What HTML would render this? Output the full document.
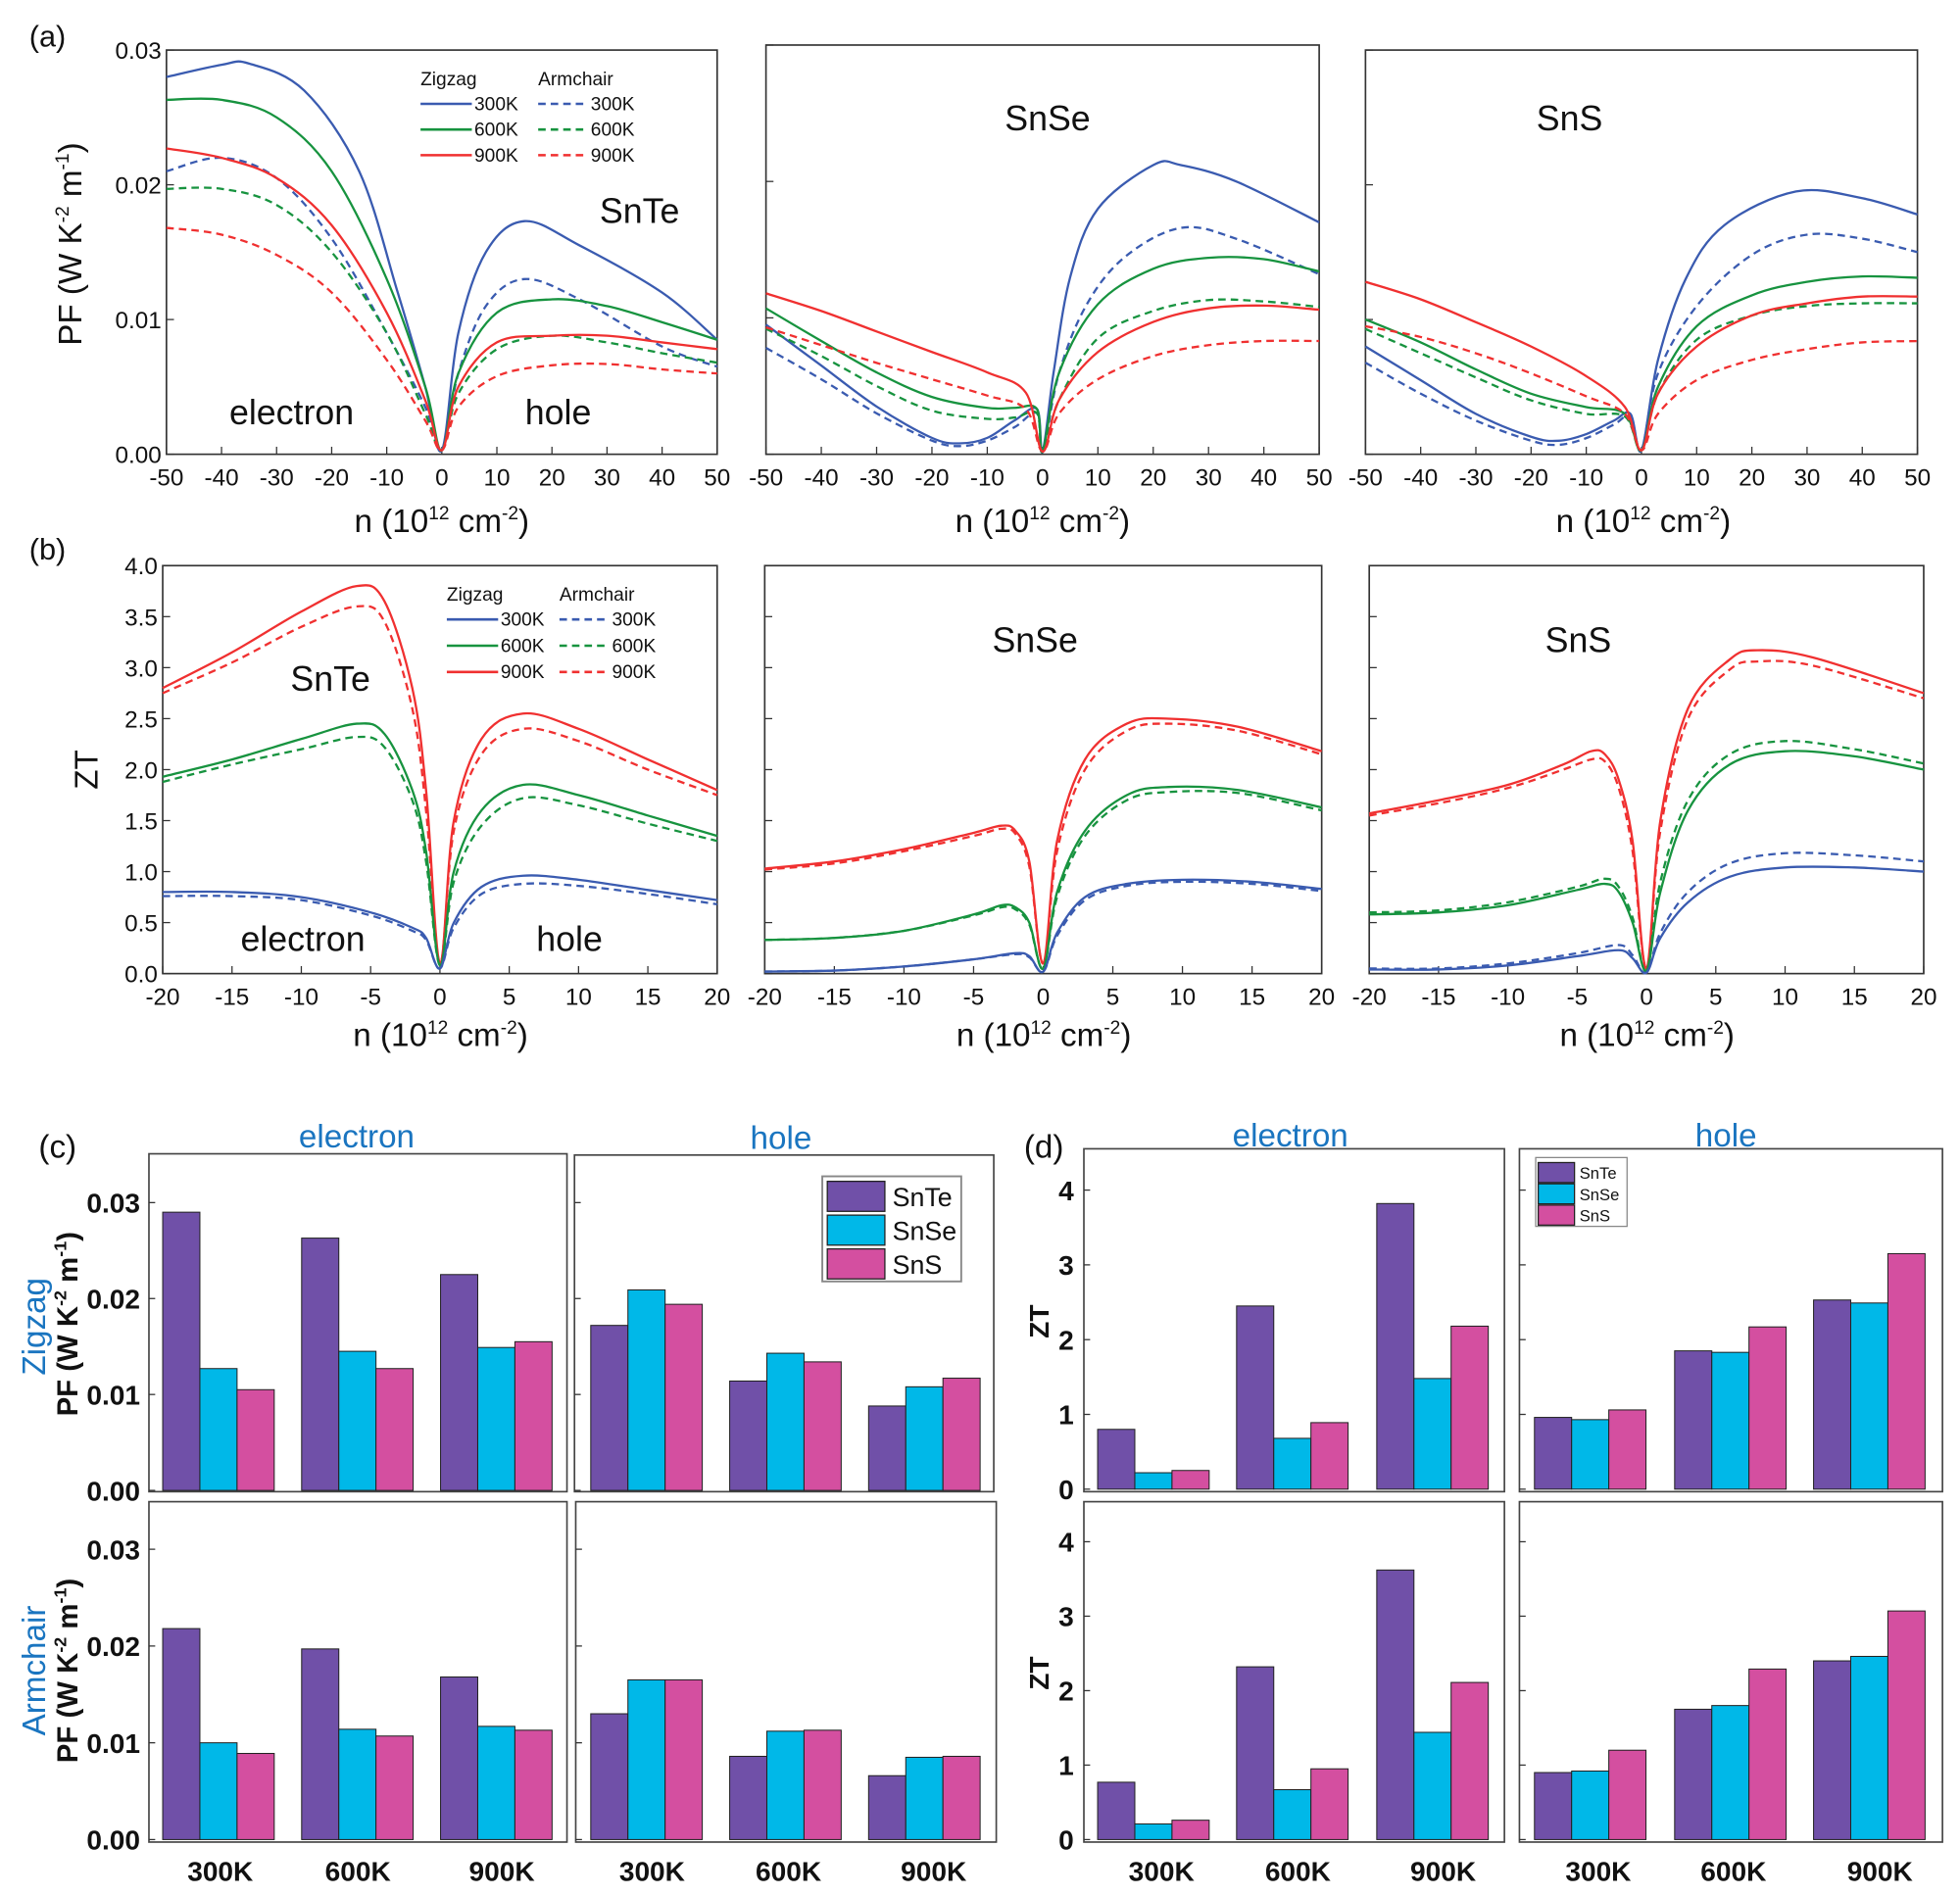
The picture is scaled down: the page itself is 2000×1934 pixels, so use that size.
<!DOCTYPE html>
<html><head><meta charset="utf-8"><style>
html,body{margin:0;padding:0;background:#fff}
svg{display:block}
text{font-family:"Liberation Sans",sans-serif}
</style></head><body>
<svg id="s" xmlns="http://www.w3.org/2000/svg" width="2000" height="1934" viewBox="0 0 1566 1514.3" preserveAspectRatio="none">
<g id="g"></g>
</svg>
<script>
var g=document.getElementById('g');var NS='http://www.w3.org/2000/svg';
function el(t,a,txt){var e=document.createElementNS(NS,t);for(var k in a)e.setAttribute(k,a[k]);if(txt!==undefined)e.textContent=txt;g.appendChild(e);return e;}
function tx(x,y,s,size,o){o=o||{};var a={x:x,y:y,'font-size':size,'text-anchor':o.a||'middle',fill:o.f||'#111'};if(o.w)a['font-weight']='bold';if(o.r)a.transform='rotate(-90 '+x+' '+y+')';return el('text',a,s);}
function rich(x,y,html,size,o){o=o||{};var e=el('text',{x:x,y:y,'font-size':size,'text-anchor':o.a||'middle',fill:'#111','font-weight':o.w?'bold':'normal',transform:o.r?'rotate(-90 '+x+' '+y+')':''});e.innerHTML=html;return e;}
var B='#3A5BB0',G='#17933F',R='#F03030';
function cr(pts){var d='M'+pts[0][0].toFixed(1)+' '+pts[0][1].toFixed(1);for(var i=0;i<pts.length-1;i++){var p0=pts[i-1]||pts[i],p1=pts[i],p2=pts[i+1],p3=pts[i+2]||p2;var t=0.17;var c1=[p1[0]+(p2[0]-p0[0])*t,p1[1]+(p2[1]-p0[1])*t],c2=[p2[0]-(p3[0]-p1[0])*t,p2[1]-(p3[1]-p1[1])*t];d+=' C'+c1[0].toFixed(1)+' '+c1[1].toFixed(1)+' '+c2[0].toFixed(1)+' '+c2[1].toFixed(1)+' '+p2[0].toFixed(1)+' '+p2[1].toFixed(1);}return d;}
function panel(P,series){el('rect',{x:P.x0,y:P.y0,width:P.x1-P.x0,height:P.y1-P.y0,fill:'none',stroke:'#333','stroke-width':1.3});
 var sx=function(v){return P.x0+(v-P.xa)/(P.xb-P.xa)*(P.x1-P.x0)},sy=function(v){return P.y1-(v-P.ya)/(P.yb-P.ya)*(P.y1-P.y0)};
 P.xt.forEach(function(v){var X=sx(v);el('line',{x1:X,x2:X,y1:P.y1,y2:P.y1-6,stroke:'#333','stroke-width':1});tx(X,P.y1+25,String(v),19);});
 P.yt.forEach(function(v){var Y=sy(v);el('line',{x1:P.x0,x2:P.x0+6,y1:Y,y2:Y,stroke:'#333','stroke-width':1});if(P.yl)tx(P.x0-4,Y+7,P.yf(v),19,{a:'end'});});
 series.forEach(function(s){var pts=s[2].map(function(p){return[sx(p[0]),sy(p[1])]});el('path',{d:cr(pts),fill:'none',stroke:s[0],'stroke-width':1.8,'stroke-dasharray':s[1]?'6 4':'none'});});
}
var pf=function(v){return v.toFixed(2)},zf=function(v){return v.toFixed(1)};
var xa=[-50,-40,-30,-20,-10,0,10,20,30,40,50],xb=[-20,-15,-10,-5,0,5,10,15,20];
var ya=[0,0.01,0.02,0.03],yb=[0,0.5,1,1.5,2,2.5,3,3.5,4];
panel({x0:133,x1:573,y0:40,y1:363,xa:-50,xb:50,ya:0,yb:0.03,xt:xa,yt:ya,yl:1,yf:pf},[
[B,0,[[-50,.028],[-40,.0289],[-35,.029],[-25,.027],[-15,.021],[-8,.012],[-3,.005],[0,.0003],[3,.009],[8,.015],[15,.0173],[25,.0155],[40,.012],[50,.0085]]],
[B,1,[[-50,.021],[-40,.022],[-30,.0205],[-20,.016],[-10,.009],[-3,.0035],[0,.0003],[3,.006],[8,.011],[15,.013],[25,.0115],[40,.008],[50,.0065]]],
[G,0,[[-50,.0263],[-40,.0263],[-30,.025],[-20,.021],[-10,.013],[-3,.005],[0,.0003],[3,.006],[10,.0105],[20,.0115],[30,.011],[40,.0098],[50,.0085]]],
[G,1,[[-50,.0197],[-40,.0197],[-30,.0185],[-20,.015],[-10,.009],[-3,.003],[0,.0003],[3,.0045],[10,.0078],[20,.0088],[30,.0083],[40,.0075],[50,.0068]]],
[R,0,[[-50,.0227],[-40,.022],[-30,.0205],[-20,.017],[-10,.0105],[-3,.004],[0,.0003],[3,.005],[10,.0083],[20,.0088],[30,.0088],[40,.0083],[50,.0078]]],
[R,1,[[-50,.0168],[-40,.0163],[-30,.0148],[-20,.012],[-10,.007],[-3,.0025],[0,.0003],[3,.0035],[10,.0058],[20,.0066],[30,.0067],[40,.0063],[50,.006]]]]);
panel({x0:612,x1:1054,y0:36,y1:363,xa:-50,xb:50,ya:0,yb:0.03,xt:xa,yt:ya},[
[B,0,[[-50,.0095],[-40,.0065],[-30,.0035],[-20,.0012],[-15,.0008],[-10,.0012],[-5,.0025],[-1,.0033],[0,.0002],[2,.006],[5,.013],[10,.018],[20,.0212],[25,.0212],[35,.02],[50,.017]]],
[B,1,[[-50,.0078],[-40,.0055],[-30,.003],[-20,.001],[-15,.0006],[-10,.001],[-5,.002],[-1,.003],[0,.0002],[3,.006],[8,.011],[15,.0145],[25,.0166],[35,.0158],[50,.0132]]],
[G,0,[[-50,.0107],[-40,.0083],[-30,.006],[-20,.0042],[-10,.0034],[-5,.0034],[-1,.0033],[0,.0002],[3,.006],[10,.011],[20,.0136],[30,.0144],[40,.0143],[50,.0134]]],
[G,1,[[-50,.0092],[-40,.0072],[-30,.005],[-20,.0032],[-10,.0026],[-5,.0027],[-1,.003],[0,.0002],[3,.004],[10,.0085],[20,.0105],[30,.0113],[40,.0112],[50,.0108]]],
[R,0,[[-50,.0118],[-40,.0105],[-30,.009],[-20,.0075],[-10,.006],[-3,.0045],[0,.0002],[3,.004],[10,.0075],[20,.0097],[30,.0107],[40,.0109],[50,.0106]]],
[R,1,[[-50,.0093],[-40,.008],[-30,.0067],[-20,.0055],[-10,.0043],[-3,.0033],[0,.0002],[3,.003],[10,.0055],[20,.0072],[30,.008],[40,.0083],[50,.0083]]]]);
panel({x0:1091,x1:1532,y0:40,y1:363,xa:-50,xb:50,ya:0,yb:0.03,xt:xa,yt:ya},[
[B,0,[[-50,.008],[-40,.0055],[-30,.003],[-20,.0013],[-15,.001],[-10,.0015],[-5,.0025],[-2,.003],[0,.0003],[3,.007],[8,.013],[15,.017],[28,.0195],[40,.019],[50,.0178]]],
[B,1,[[-50,.0068],[-40,.0045],[-30,.0025],[-20,.001],[-15,.0007],[-10,.0012],[-5,.0022],[-2,.0028],[0,.0003],[3,.006],[10,.011],[20,.0148],[30,.0163],[40,.016],[50,.015]]],
[G,0,[[-50,.01],[-40,.0083],[-30,.0063],[-20,.0045],[-10,.0035],[-3,.003],[0,.0003],[3,.005],[10,.0095],[20,.0118],[30,.0128],[40,.0132],[50,.0131]]],
[G,1,[[-50,.0093],[-40,.0075],[-30,.0057],[-20,.004],[-10,.003],[-3,.0028],[0,.0003],[3,.0045],[10,.0085],[20,.0103],[30,.011],[40,.0112],[50,.0112]]],
[R,0,[[-50,.0128],[-40,.0115],[-30,.0098],[-20,.008],[-10,.0058],[-3,.0035],[0,.0003],[3,.0045],[10,.008],[20,.0103],[30,.0112],[40,.0117],[50,.0117]]],
[R,1,[[-50,.0095],[-40,.0087],[-30,.0075],[-20,.006],[-10,.0043],[-3,.003],[0,.0003],[3,.003],[10,.0055],[20,.007],[30,.0078],[40,.0083],[50,.0084]]]]);
panel({x0:130,x1:573,y0:452,y1:778,xa:-20,xb:20,ya:0,yb:4,xt:xb,yt:yb,yl:1,yf:zf},[
[R,0,[[-20,2.8],[-15,3.15],[-10,3.55],[-6,3.8],[-4,3.65],[-2,2.8],[-1,1.8],[0,0.1],[1,1.5],[3,2.3],[6,2.55],[10,2.4],[15,2.1],[20,1.8]]],
[R,1,[[-20,2.75],[-15,3.05],[-10,3.4],[-6,3.6],[-4,3.45],[-2,2.6],[-1,1.6],[0,0.1],[1,1.4],[3,2.15],[6,2.4],[10,2.28],[15,2.0],[20,1.75]]],
[G,0,[[-20,1.93],[-15,2.1],[-10,2.3],[-6,2.45],[-4,2.35],[-2,1.8],[-1,1.2],[0,0.08],[1,1.0],[3,1.6],[6,1.85],[10,1.75],[15,1.55],[20,1.35]]],
[G,1,[[-20,1.88],[-15,2.05],[-10,2.2],[-6,2.32],[-4,2.22],[-2,1.7],[-1,1.1],[0,0.08],[1,0.9],[3,1.45],[6,1.72],[10,1.65],[15,1.47],[20,1.3]]],
[B,0,[[-20,0.8],[-15,0.8],[-10,0.75],[-5,0.6],[-2,0.45],[-1,0.35],[0,0.05],[1,0.5],[3,0.85],[6,0.96],[10,0.92],[15,0.82],[20,0.72]]],
[B,1,[[-20,0.76],[-15,0.76],[-10,0.72],[-5,0.57],[-2,0.42],[-1,0.33],[0,0.05],[1,0.45],[3,0.78],[6,0.88],[10,0.86],[15,0.78],[20,0.68]]]]);
panel({x0:611,x1:1056,y0:452,y1:778,xa:-20,xb:20,ya:0,yb:4,xt:xb,yt:yb},[
[R,0,[[-20,1.03],[-15,1.1],[-10,1.22],[-5,1.38],[-3,1.45],[-2,1.4],[-1,1.1],[0,0.1],[1,1.3],[3,2.1],[6,2.45],[9,2.5],[14,2.42],[20,2.18]]],
[R,1,[[-20,1.02],[-15,1.08],[-10,1.2],[-5,1.35],[-3,1.42],[-2,1.37],[-1,1.05],[0,0.1],[1,1.2],[3,2.0],[6,2.38],[9,2.45],[14,2.38],[20,2.15]]],
[G,0,[[-20,0.33],[-15,0.35],[-10,0.42],[-5,0.58],[-3,0.67],[-2,0.65],[-1,0.5],[0,0.05],[1,0.8],[3,1.4],[6,1.75],[9,1.83],[14,1.8],[20,1.63]]],
[G,1,[[-20,0.33],[-15,0.35],[-10,0.42],[-5,0.57],[-3,0.65],[-2,0.63],[-1,0.48],[0,0.05],[1,0.75],[3,1.35],[6,1.7],[9,1.78],[14,1.77],[20,1.6]]],
[B,0,[[-20,0.02],[-15,0.03],[-10,0.07],[-5,0.14],[-2,0.2],[-1,0.17],[0,0.02],[1,0.4],[3,0.75],[6,0.88],[10,0.92],[15,0.9],[20,0.83]]],
[B,1,[[-20,0.02],[-15,0.03],[-10,0.07],[-5,0.14],[-2,0.19],[-1,0.16],[0,0.02],[1,0.37],[3,0.72],[6,0.86],[10,0.9],[15,0.88],[20,0.81]]]]);
panel({x0:1094,x1:1537,y0:452,y1:778,xa:-20,xb:20,ya:0,yb:4,xt:xb,yt:yb},[
[R,0,[[-20,1.57],[-15,1.7],[-10,1.85],[-6,2.05],[-4,2.18],[-3,2.15],[-2,1.9],[-1,1.3],[0,0.05],[1,1.5],[3,2.6],[6,3.08],[8,3.17],[12,3.1],[20,2.75]]],
[R,1,[[-20,1.55],[-15,1.67],[-10,1.82],[-6,2.0],[-4,2.1],[-3,2.08],[-2,1.82],[-1,1.2],[0,0.05],[1,1.4],[3,2.5],[6,2.98],[8,3.06],[12,3.02],[20,2.7]]],
[G,0,[[-20,0.58],[-15,0.6],[-10,0.67],[-5,0.82],[-3,0.88],[-2,0.8],[-1,0.5],[0,0.03],[1,0.8],[3,1.6],[6,2.05],[10,2.18],[15,2.13],[20,2.0]]],
[G,1,[[-20,0.6],[-15,0.62],[-10,0.7],[-5,0.85],[-3,0.93],[-2,0.85],[-1,0.55],[0,0.03],[1,0.9],[3,1.7],[6,2.15],[10,2.28],[15,2.2],[20,2.06]]],
[B,0,[[-20,0.04],[-15,0.04],[-10,0.08],[-5,0.17],[-2,0.23],[-1,0.15],[0,0.01],[1,0.35],[3,0.7],[6,0.95],[10,1.04],[15,1.04],[20,1.0]]],
[B,1,[[-20,0.05],[-15,0.05],[-10,0.1],[-5,0.2],[-2,0.28],[-1,0.18],[0,0.01],[1,0.4],[3,0.8],[6,1.08],[10,1.18],[15,1.16],[20,1.1]]]]);
tx(38,37,'(a)',24);tx(38,447,'(b)',24);
[353,833,1313].forEach(function(x){rich(x,425,'n (10<tspan font-size="15" dy="-10">12</tspan><tspan dy="10"> cm</tspan><tspan font-size="15" dy="-10">-2</tspan><tspan dy="10">)</tspan>',26);});
[352,834,1316].forEach(function(x){rich(x,836,'n (10<tspan font-size="15" dy="-10">12</tspan><tspan dy="10"> cm</tspan><tspan font-size="15" dy="-10">-2</tspan><tspan dy="10">)</tspan>',26);});
rich(65,195,'PF (W K<tspan font-size="15" dy="-10">-2</tspan><tspan dy="10"> m</tspan><tspan font-size="15" dy="-10">-1</tspan><tspan dy="10">)</tspan>',26,{r:1});
tx(78,615,'ZT',26,{r:1});
tx(511,178,'SnTe',28);tx(233,339,'electron',28);tx(446,339,'hole',28);tx(837,104,'SnSe',28);tx(1254,104,'SnS',28);
tx(264,552,'SnTe',28);tx(242,760,'electron',28);tx(455,760,'hole',28);tx(827,521,'SnSe',28);tx(1261,521,'SnS',28);
function leg(x,y,x2,dy){tx(x,y,'Zigzag',15,{a:'start'});tx(x2,y,'Armchair',15,{a:'start'});[B,G,R].forEach(function(c,i){var Y=y+20+i*dy;el('line',{x1:x,x2:x+41,y1:Y-5,y2:Y-5,stroke:c,'stroke-width':2});tx(x+43,Y,['300K','600K','900K'][i],15,{a:'start'});el('line',{x1:x2,x2:x2+38,y1:Y-5,y2:Y-5,stroke:c,'stroke-width':2,'stroke-dasharray':'6 4'});tx(x2+42,Y,['300K','600K','900K'][i],15,{a:'start'});});}
leg(336,68,430,20.5);leg(357,480,447,21);
var PU='#7050A8',CY='#00B8E8',PK='#D44FA0';
function bars(x0,x1,y0,y1,zero,top,topv,starts,vals,ytl,yf,lx){el('rect',{x:x0,y:y0,width:x1-x0,height:y1-y0,fill:'none',stroke:'#444','stroke-width':1.3});
 var k=(zero-top)/topv;ytl.forEach(function(v){var Y=zero-v*k;el('line',{x1:x0,x2:x0+5,y1:Y,y2:Y,stroke:'#333'});if(lx)tx(lx,Y+8,yf(v),22,{a:'end',w:1});});
 starts.forEach(function(s,gi){[PU,CY,PK].forEach(function(c,j){var v=vals[gi*3+j];var h=v*k;el('rect',{x:s+j*29.7,y:zero-h,width:29.7,height:h,fill:c,stroke:'#222','stroke-width':0.8});});});}
var cl=[130,241,352],cr2=[472,583,694],dl=[877,988,1100],dr=[1226,1338,1449];
var pft=[0,0.01,0.02,0.03],zt=[0,1,2,3,4];
bars(119,453,922,1192,1191,961,0.03,cl,[.029,.0127,.0105,.0263,.0145,.0127,.0225,.0149,.0155],pft,pf,112);
bars(459,794,923,1192,1191,961,0.03,cr2,[.0172,.0209,.0194,.0114,.0143,.0134,.0088,.0108,.0117],pft,pf,0);
bars(119,453,1200,1472,1470,1238,0.03,cl,[.0218,.01,.0089,.0197,.0114,.0107,.0168,.0117,.0113],pft,pf,112);
bars(460,796,1200,1472,1470,1238,0.03,cr2,[.013,.0165,.0165,.0086,.0112,.0113,.0066,.0085,.0086],pft,pf,0);
bars(866,1202,918,1192,1190,951,4,dl,[.8,.22,.25,2.45,.68,.89,3.82,1.48,2.18],zt,function(v){return String(v)},858);
bars(1214,1552,918,1192,1190,951,4,dr,[.96,.93,1.06,1.85,1.83,2.17,2.53,2.49,3.15],zt,null,0);
bars(866,1202,1200,1472,1470,1232,4,dl,[.77,.21,.26,2.32,.67,.95,3.62,1.44,2.11],zt,function(v){return String(v)},858);
bars(1214,1552,1200,1472,1470,1232,4,dr,[.9,.92,1.2,1.75,1.8,2.29,2.4,2.46,3.07],zt,null,0);
var BL='#1a75c0';
tx(46,925,'(c)',26);tx(834,925,'(d)',26);
[[285,909],[624,910],[1031,908],[1379,908]].forEach(function(p,i){tx(p[0],p[1]+8,i%2?'hole':'electron',26,{f:BL});});
[[176,1503],[286,1503],[401,1503],[521,1503],[630,1503],[746,1503],[928,1503],[1037,1503],[1153,1503],[1277,1503],[1385,1503],[1502,1503]].forEach(function(p,i){tx(p[0],p[1],['300K','600K','900K'][i%3],22,{w:1});});
tx(36,1060,'Zigzag',26,{r:1,f:BL});tx(36,1335,'Armchair',26,{r:1,f:BL});
rich(62,1058,'PF (W K<tspan font-size="14" dy="-9">-2</tspan><tspan dy="9"> m</tspan><tspan font-size="14" dy="-9">-1</tspan><tspan dy="9">)</tspan>',23,{r:1,w:1});
rich(62,1335,'PF (W K<tspan font-size="14" dy="-9">-2</tspan><tspan dy="9"> m</tspan><tspan font-size="14" dy="-9">-1</tspan><tspan dy="9">)</tspan>',23,{r:1,w:1});
tx(838,1056,'ZT',22,{r:1,w:1});tx(838,1337,'ZT',22,{r:1,w:1});
el('rect',{x:657,y:940,width:111,height:84,fill:'#fff',stroke:'#888','stroke-width':1.5});
['SnTe','SnSe','SnS'].forEach(function(n,i){el('rect',{x:661,y:944+i*27,width:46,height:24,fill:[PU,CY,PK][i],stroke:'#222'});tx(713,964+i*27,n,21,{a:'start'});});
el('rect',{x:1227,y:925,width:73,height:55,fill:'#fff',stroke:'#888','stroke-width':1});
['SnTe','SnSe','SnS'].forEach(function(n,i){el('rect',{x:1229,y:929+i*17,width:29,height:16,fill:[PU,CY,PK][i],stroke:'#222'});tx(1262,942+i*17,n,13,{a:'start'});});
</script>
</body></html>
